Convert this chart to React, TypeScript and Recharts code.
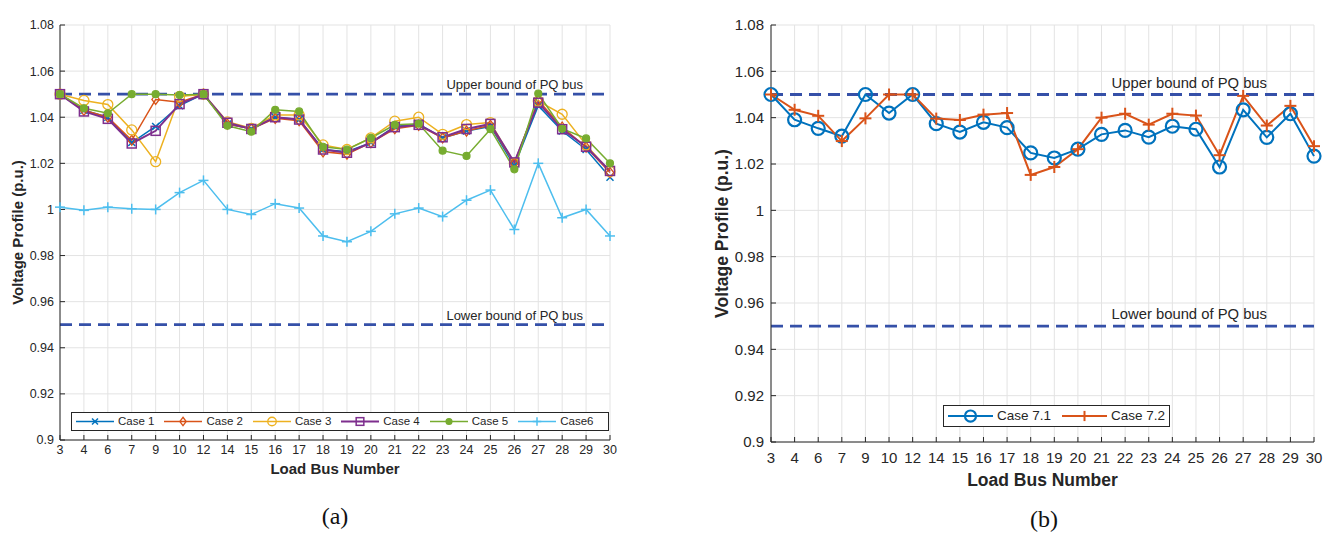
import React from "react";
import {
  CartesianGrid,
  Label,
  Legend,
  Line,
  LineChart,
  ReferenceLine,
  XAxis,
  YAxis,
} from "recharts";

const FONT = '"Liberation Sans", Arial, Helvetica, sans-serif';
const INK = "#262626";
const GRID = "#e3e3e3";
const BOUND = "#3550a8";

// load buses on the x axis (same for both panels)
const buses = [
  "3", "4", "6", "7", "9", "10", "12", "14", "15", "16", "17", "18",
  "19", "20", "21", "22", "23", "24", "25", "26", "27", "28", "29", "30",
];
const yTicks = [0.9, 0.92, 0.94, 0.96, 0.98, 1, 1.02, 1.04, 1.06, 1.08];
const upperBound = 1.05;
const lowerBound = 0.95;

// panel (a)
const case1 = [1.05, 1.043, 1.04, 1.029, 1.036, 1.045, 1.05, 1.037, 1.035, 1.04, 1.039, 1.026, 1.025, 1.029, 1.036, 1.037, 1.031, 1.034, 1.036, 1.019, 1.045, 1.034, 1.026, 1.014];
const case2 = [1.05, 1.043, 1.04, 1.03, 1.0477, 1.0465, 1.05, 1.037, 1.035, 1.0395, 1.0385, 1.025, 1.024, 1.029, 1.035, 1.0365, 1.031, 1.034, 1.0365, 1.02, 1.0473, 1.0357, 1.027, 1.016];
const case3 = [1.05, 1.0473, 1.0455, 1.0345, 1.0207, 1.049, 1.05, 1.038, 1.0352, 1.041, 1.041, 1.028, 1.026, 1.031, 1.0383, 1.04, 1.0326, 1.0368, 1.0377, 1.02, 1.047, 1.0413, 1.028, 1.0165];
const case4 = [1.05, 1.0425, 1.0393, 1.0286, 1.0341, 1.0457, 1.05, 1.0376, 1.0349, 1.04, 1.039, 1.026, 1.0246, 1.0289, 1.0357, 1.0367, 1.0313, 1.0349, 1.0371, 1.0204, 1.0463, 1.0348, 1.0272, 1.0167];
const case5 = [1.05, 1.0439, 1.0417, 1.05, 1.05, 1.0496, 1.05, 1.0363, 1.0337, 1.0432, 1.0425, 1.0272, 1.026, 1.031, 1.0367, 1.0372, 1.0255, 1.0232, 1.0348, 1.0174, 1.0503, 1.035, 1.0308, 1.02];
const case6 = [1.001, 0.9996, 1.001, 1.0003, 1.0, 1.0073, 1.0126, 1.0, 0.9978, 1.0025, 1.0006, 0.9885, 0.986, 0.9905, 0.9981, 1.0006, 0.9969, 1.004, 1.0084, 0.9913, 1.02, 0.9964, 1.0, 0.9885];

// panel (b)
const case71 = [1.05, 1.0391, 1.0354, 1.032, 1.05, 1.042, 1.05, 1.0374, 1.0338, 1.038, 1.0357, 1.0248, 1.0226, 1.0264, 1.0328, 1.0345, 1.0316, 1.0363, 1.035, 1.0187, 1.0434, 1.0315, 1.0417, 1.0234];
const case72 = [1.05, 1.0434, 1.0408, 1.0299, 1.0397, 1.05, 1.05, 1.0396, 1.039, 1.0413, 1.042, 1.0153, 1.0187, 1.0264, 1.04, 1.0417, 1.037, 1.0417, 1.0409, 1.0238, 1.0494, 1.0366, 1.0451, 1.0277];

type Shape = "x" | "diamond" | "circle" | "square" | "dot" | "plus";
type Series = {
  key: string;
  name: string;
  color: string;
  shape: Shape;
  values: number[];
  width: number;
  size: number;
  markWidth: number;
};

const leftSeries: Series[] = [
  { key: "c1", name: "Case 1", color: "#0072BD", shape: "x", values: case1, width: 1.5, size: 3.5, markWidth: 1.5 },
  { key: "c2", name: "Case 2", color: "#D95319", shape: "diamond", values: case2, width: 1.5, size: 5, markWidth: 1.3 },
  { key: "c3", name: "Case 3", color: "#EDB120", shape: "circle", values: case3, width: 1.5, size: 5, markWidth: 1.3 },
  { key: "c4", name: "Case 4", color: "#7E2F8E", shape: "square", values: case4, width: 2, size: 4.5, markWidth: 1.5 },
  { key: "c5", name: "Case 5", color: "#77AC30", shape: "dot", values: case5, width: 1.5, size: 3.5, markWidth: 1.2 },
  { key: "c6", name: "Case6", color: "#4DBEEE", shape: "plus", values: case6, width: 1.5, size: 5, markWidth: 1.5 },
];

const rightSeries: Series[] = [
  { key: "c71", name: "Case 7.1", color: "#0072BD", shape: "circle", values: case71, width: 2, size: 6.5, markWidth: 2.2 },
  { key: "c72", name: "Case 7.2", color: "#D95319", shape: "plus", values: case72, width: 2, size: 6, markWidth: 2 },
];

function buildRows(series: Series[]) {
  return buses.map((bus, i) => {
    const row: Record<string, string | number> = { bus };
    series.forEach((s) => {
      row[s.key] = s.values[i];
    });
    return row;
  });
}

function Marker({ shape, cx, cy, color, size, sw }: { shape: Shape; cx: number; cy: number; color: string; size: number; sw: number }) {
  const h = size;
  switch (shape) {
    case "x":
      return (
        <g stroke={color} strokeWidth={sw}>
          <line x1={cx - h} y1={cy - h} x2={cx + h} y2={cy + h} />
          <line x1={cx - h} y1={cy + h} x2={cx + h} y2={cy - h} />
        </g>
      );
    case "plus":
      return (
        <g stroke={color} strokeWidth={sw}>
          <line x1={cx - h} y1={cy} x2={cx + h} y2={cy} />
          <line x1={cx} y1={cy - h} x2={cx} y2={cy + h} />
        </g>
      );
    case "diamond":
      return (
        <polygon
          points={`${cx},${cy - h} ${cx + h * 0.75},${cy} ${cx},${cy + h} ${cx - h * 0.75},${cy}`}
          fill="none"
          stroke={color}
          strokeWidth={sw}
        />
      );
    case "circle":
      return <circle cx={cx} cy={cy} r={h} fill="none" stroke={color} strokeWidth={sw} />;
    case "square":
      return <rect x={cx - h} y={cy - h} width={2 * h} height={2 * h} fill="none" stroke={color} strokeWidth={sw} />;
    default:
      return <circle cx={cx} cy={cy} r={h} fill={color} stroke={color} strokeWidth={sw} />;
  }
}

const fmt = (v: number) => String(parseFloat(v.toFixed(2)));

type Spec = {
  x: number;
  width: number;
  height: number;
  margin: { top: number; right: number; bottom: number; left: number };
  yAxisWidth: number;
  xAxisHeight: number;
  tickFont: number;
  titleFont: number;
  titleOffset: number;
  axisTitleFont: number;
  xTitleOffset: number;
  yTitleX: number;
  boundFont: number;
  boundInset: number;
  boundGap: number;
  xTickMargin: number;
  yTickMargin: number;
  legend: { left: number; top: number; width: number; height: number; font: number; lineLen: number; gap: number; itemGap: number; pad: number };
};

const leftSpec: Spec = {
  x: 0,
  width: 640,
  height: 500,
  margin: { top: 25, right: 30, bottom: 30, left: 15 },
  yAxisWidth: 45,
  xAxisHeight: 30,
  tickFont: 12.5,
  titleFont: 15.5,
  titleOffset: 5,
  axisTitleFont: 15,
  xTitleOffset: -7,
  yTitleX: 17,
  boundFont: 13,
  boundInset: 27,
  boundGap: 5,
  xTickMargin: 10,
  yTickMargin: 11,
  legend: { left: 71, top: 412, width: 538, height: 19, font: 11.5, lineLen: 38, gap: 4, itemGap: 10, pad: 4 },
};

const rightSpec: Spec = {
  x: 700,
  width: 633,
  height: 500,
  margin: { top: 25, right: 19, bottom: 23, left: 21 },
  yAxisWidth: 50,
  xAxisHeight: 35,
  tickFont: 15,
  titleFont: 18,
  titleOffset: 6.5,
  axisTitleFont: 17.5,
  xTitleOffset: -3,
  yTitleX: 22,
  boundFont: 14.8,
  boundInset: 47,
  boundGap: 7,
  xTickMargin: 15,
  yTickMargin: 12,
  legend: { left: 243, top: 405, width: 227, height: 22, font: 13.5, lineLen: 45, gap: 4, itemGap: 11, pad: 4 },
};

function LegendBox({ series, spec }: { series: Series[]; spec: Spec }) {
  const L = spec.legend;
  const ih = L.height - 2;
  return (
    <div
      style={{
        boxSizing: "border-box",
        width: L.width,
        height: L.height,
        border: `1px solid ${INK}`,
        background: "#fff",
        display: "flex",
        alignItems: "center",
        paddingLeft: L.pad,
        fontSize: L.font,
        color: INK,
        fontFamily: FONT,
        whiteSpace: "nowrap",
      }}
    >
      {series.map((s, i) => (
        <div
          key={s.key}
          style={{ display: "flex", alignItems: "center", marginRight: i < series.length - 1 ? L.itemGap : 0 }}
        >
          <svg width={L.lineLen} height={ih} style={{ display: "block" }}>
            <line x1={0} x2={L.lineLen} y1={ih / 2} y2={ih / 2} stroke={s.color} strokeWidth={s.width} />
            <Marker shape={s.shape} cx={L.lineLen / 2} cy={ih / 2} color={s.color} size={s.size * 0.85} sw={s.markWidth} />
          </svg>
          <span style={{ marginLeft: L.gap, lineHeight: 1 }}>{s.name}</span>
        </div>
      ))}
    </div>
  );
}

function boundLabel(text: string, spec: Spec) {
  return (props: any) => {
    const vb = props.viewBox || {};
    return (
      <text
        x={vb.x + vb.width - spec.boundInset}
        y={vb.y - spec.boundGap}
        textAnchor="end"
        fontSize={spec.boundFont}
        fill={INK}
        fontFamily={FONT}
      >
        {text}
      </text>
    );
  };
}

function VoltageChart({ series, spec }: { series: Series[]; spec: Spec }) {
  const rows = buildRows(series);
  const tickStyle = { fontSize: spec.tickFont, fill: INK, fontFamily: FONT };
  return (
    <div style={{ position: "absolute", left: spec.x, top: 0 }}>
      <LineChart width={spec.width} height={spec.height} data={rows} margin={spec.margin}>
        <CartesianGrid stroke={GRID} strokeWidth={1} />
        <XAxis
          dataKey="bus"
          interval={0}
          height={spec.xAxisHeight}
          stroke={INK}
          tickSize={-5}
          tickMargin={spec.xTickMargin}
          tick={tickStyle}
        >
          <Label
            value="Load Bus Number"
            position="bottom"
            offset={spec.xTitleOffset}
            style={{ fontSize: spec.axisTitleFont, fontWeight: 700, fill: INK, fontFamily: FONT }}
          />
        </XAxis>
        <XAxis
          xAxisId="top"
          dataKey="bus"
          orientation="top"
          interval={0}
          height={0}
          stroke={INK}
          tickSize={-5}
          tick={false}
        >
          <Label
            value="IEEE 30 bus test system"
            position="top"
            offset={spec.titleOffset}
            style={{ fontSize: spec.titleFont, fontWeight: 700, fill: "#111", fontFamily: FONT }}
          />
        </XAxis>
        <YAxis
          type="number"
          domain={[0.9, 1.08]}
          ticks={yTicks}
          interval={0}
          width={spec.yAxisWidth}
          stroke={INK}
          tickSize={-5}
          tickMargin={spec.yTickMargin}
          tick={tickStyle}
          tickFormatter={fmt}
        >
          <Label
            content={(props: any) => {
              const vb = props.viewBox || {};
              const cy = vb.y + vb.height / 2;
              return (
                <text
                  x={spec.yTitleX}
                  y={cy}
                  transform={`rotate(-90 ${spec.yTitleX} ${cy})`}
                  textAnchor="middle"
                  dominantBaseline="central"
                  fontSize={spec.axisTitleFont}
                  fontWeight={700}
                  fill={INK}
                  fontFamily={FONT}
                >
                  Voltage Profile (p.u.)
                </text>
              );
            }}
          />
        </YAxis>
        <YAxis
          yAxisId="right"
          type="number"
          orientation="right"
          domain={[0.9, 1.08]}
          ticks={yTicks}
          interval={0}
          width={0}
          stroke={INK}
          tickSize={-5}
          tick={false}
        />
        <ReferenceLine
          y={upperBound}
          stroke={BOUND}
          strokeWidth={2.8}
          strokeDasharray="12 7"
          label={boundLabel("Upper bound of PQ bus", spec)}
        />
        <ReferenceLine
          y={lowerBound}
          stroke={BOUND}
          strokeWidth={2.8}
          strokeDasharray="12 7"
          label={boundLabel("Lower bound of PQ bus", spec)}
        />
        {series.map((s) => (
          <Line
            key={s.key}
            type="linear"
            dataKey={s.key}
            name={s.name}
            stroke={s.color}
            strokeWidth={s.width}
            isAnimationActive={false}
            activeDot={false}
            dot={(p: any) =>
              p.cx == null || p.cy == null ? (
                <g key={`${s.key}-${p.index}`} />
              ) : (
                <Marker
                  key={`${s.key}-${p.index}`}
                  shape={s.shape}
                  cx={p.cx}
                  cy={p.cy}
                  color={s.color}
                  size={s.size}
                  sw={s.markWidth}
                />
              )
            }
          />
        ))}
        <Legend
          layout="horizontal"
          verticalAlign="middle"
          align="center"
          wrapperStyle={{
            left: spec.legend.left,
            top: spec.legend.top,
            width: spec.legend.width,
            height: spec.legend.height,
          }}
          content={() => <LegendBox series={series} spec={spec} />}
        />
      </LineChart>
    </div>
  );
}

export default function App() {
  const caption = { fontFamily: '"Liberation Serif", "Times New Roman", serif', fontSize: 24, color: "#111" };
  return (
    <div
      style={{
        position: "absolute",
        left: 0,
        top: 0,
        width: 1333,
        height: 538,
        background: "#fff",
        fontFamily: FONT,
        overflow: "hidden",
      }}
    >
      <VoltageChart series={leftSeries} spec={leftSpec} />
      <VoltageChart series={rightSeries} spec={rightSpec} />
      <div style={{ ...caption, position: "absolute", left: 285, top: 503, width: 100, textAlign: "center" }}>(a)</div>
      <div style={{ ...caption, position: "absolute", left: 994, top: 506, width: 100, textAlign: "center" }}>(b)</div>
    </div>
  );
}
